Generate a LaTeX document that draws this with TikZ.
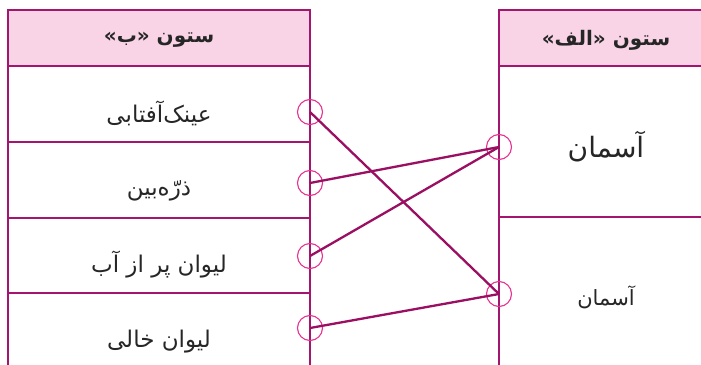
\documentclass[tikz,border=0pt]{standalone}
\usepackage{fontspec}
\newfontfamily\arabicfont[Script=Arabic]{DejaVu Sans}
\TeXXeTstate=1
\definecolor{bordercol}{HTML}{A3156E}
\definecolor{headfill}{HTML}{F9D4E6}
\definecolor{circcol}{HTML}{E8308F}
\definecolor{linkcol}{HTML}{9A0F62}
\tikzset{
  frame/.style={draw=bordercol, line width=1.6pt},
  headtxt/.style={font=\arabicfont\bfseries\fontsize{20}{24}\selectfont, text=black!85, inner sep=0pt},
  celltxt/.style={font=\arabicfont\fontsize{23}{27}\selectfont, text=black!85, inner sep=0pt},
  smalltxt/.style={font=\arabicfont\fontsize{21}{25}\selectfont, text=black!85, inner sep=0pt},
  bigtxt/.style={font=\arabicfont\fontsize{28}{32}\selectfont, text=black!85, inner sep=0pt},
  dot/.style={circle, draw=circcol, line width=1.1pt, minimum size=25pt, inner sep=0pt},
  link/.style={draw=linkcol, line width=2.3pt}
}
\begin{document}
\begin{tikzpicture}[x=1pt,y=-1pt]
\useasboundingbox (0,0) rectangle (701,364);
\clip (0,0) rectangle (701,364);
% headers
\fill[headfill] (8,10) rectangle (310,66);
\fill[headfill] (499,10) rectangle (710,66);
% left table
\draw[frame] (8,380) -- (8,10) -- (310,10) -- (310,380);
\draw[frame] (8,66) -- (310,66);
\draw[frame] (8,142) -- (310,142);
\draw[frame] (8,218) -- (310,218);
\draw[frame] (8,293) -- (310,293);
% right table
\draw[frame] (499,380) -- (499,10) -- (710,10);
\draw[frame] (499,66) -- (710,66);
\draw[frame] (499,217) -- (710,217);
% texts
\node[headtxt] (hb) at (159,40) {\beginR ستون «ب»\endR};
\node[headtxt] (ha) at (606,40) {\beginR ستون «الف»\endR};
\node[celltxt] (b1) at (159,113) {\beginR عینک‌آفتابی\endR};
\node[celltxt] (b2) at (159,191) {\beginR ذرّه‌بین\endR};
\node[celltxt] (b3) at (159,265) {\beginR لیوان پر از آب\endR};
\node[celltxt] (b4) at (159,342) {\beginR لیوان خالی\endR};
\node[bigtxt] (a1) at (606,147) {\beginR آسمان\endR};
\node[smalltxt] (a2) at (606,297) {\beginR آسمان\endR};
% circles
\node[dot] (l1) at (310,112) {};
\node[dot] (l2) at (310,183) {};
\node[dot] (l3) at (310,256) {};
\node[dot] (l4) at (310,328) {};
\node[dot] (r1) at (499,147) {};
\node[dot] (r2) at (499,294) {};
% links
\draw[link] (l1.center) -- (r2.center);
\draw[link] (l2.center) -- (r1.center);
\draw[link] (l3.center) -- (r1.center);
\draw[link] (l4.center) -- (r2.center);
\end{tikzpicture}
\end{document}
